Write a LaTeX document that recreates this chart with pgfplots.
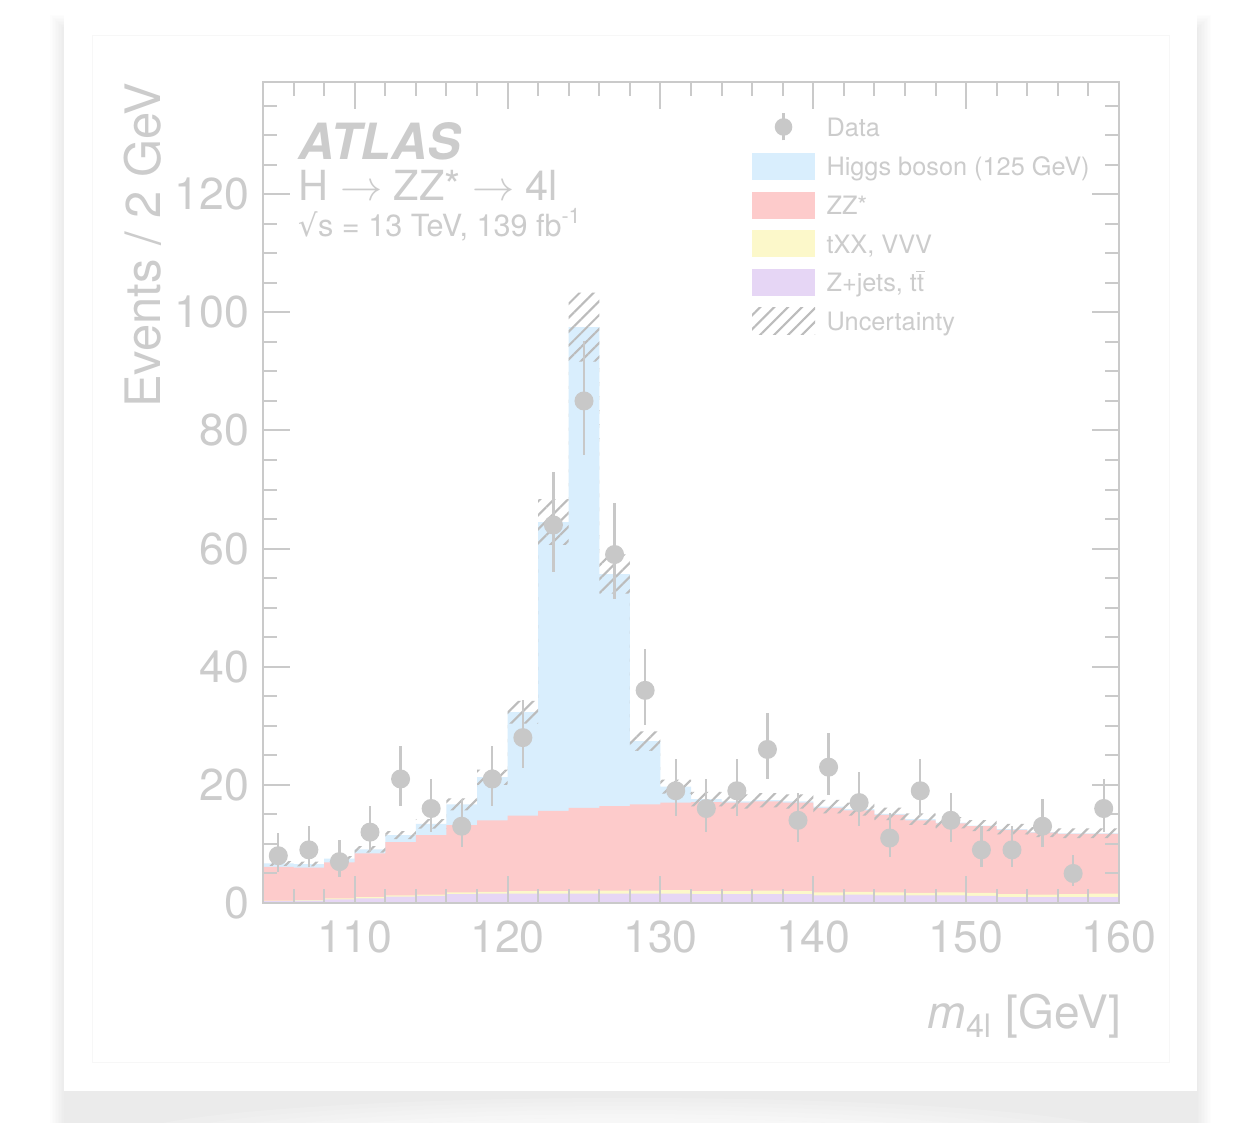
\documentclass[border=0pt]{standalone}
\usepackage{fontspec}
\setmainfont{TeX Gyre Heros}
\newfontfamily\dejavu{DejaVu Sans}
\usepackage{pgfplots}
\pgfplotsset{compat=1.18}
\usepackage{pgfplotstable}
\usetikzlibrary{patterns.meta}

\definecolor{txtgray}{RGB}{204,204,204}
\definecolor{axisgray}{RGB}{202,202,202}
\definecolor{datagray}{RGB}{200,200,200}
\definecolor{hatchgray}{RGB}{188,188,188}
\definecolor{hblue}{RGB}{217,238,253}
\definecolor{zzred}{RGB}{253,203,203}
\definecolor{tyellow}{RGB}{252,248,202}
\definecolor{zpurple}{RGB}{230,214,245}

\pgfplotstableread{
x P Y R B
104 0.3 0.4 6.1 6.7
106 0.4 0.5 6.0 6.6
108 0.6 0.8 6.9 7.5
110 0.8 1.0 8.4 9.1
112 1.1 1.3 10.3 11.5
114 1.2 1.4 11.5 13.4
116 1.5 1.8 13.2 16.7
118 1.6 1.9 14.0 21.3
120 1.6 2.0 14.8 32.3
122 1.6 2.0 15.6 64.5
124 1.6 2.1 16.1 97.5
126 1.6 2.1 16.4 55.7
128 1.6 2.1 16.7 27.4
130 1.6 2.2 17.0 19.7
132 1.5 2.0 17.1 17.6
134 1.5 2.0 17.0 17.2
136 1.5 2.1 17.2 17.4
138 1.5 2.0 17.0 17.2
140 1.3 1.8 16.1 16.3
142 1.4 1.9 15.7 15.9
144 1.3 1.8 14.9 15.1
146 1.3 1.7 14.0 14.2
148 1.3 1.8 13.5 13.6
150 1.2 1.7 13.0 13.1
152 1.0 1.5 12.4 12.5
154 1.0 1.4 11.9 12.0
156 1.0 1.5 11.7 11.8
158 1.0 1.6 11.7 11.8
160 1.0 1.6 11.7 11.8
}\stack

\pgfplotstableread{
x y ep em
105 8 3.8 2.7
107 9 4.0 2.9
109 7 3.6 2.6
111 12 4.5 3.4
113 21 5.6 4.5
115 16 5.0 3.9
117 13 4.6 3.5
119 21 5.6 4.5
121 28 6.3 5.2
123 64 9.0 7.9
125 85 10.2 9.1
127 59 8.7 7.6
129 36 7.0 5.9
131 19 5.4 4.3
133 16 5.0 3.9
135 19 5.4 4.3
137 26 6.1 5.0
139 14 4.7 3.6
141 23 5.8 4.7
143 17 5.1 4.0
145 11 4.3 3.2
147 19 5.4 4.3
149 14 4.7 3.6
151 9 4.0 2.9
153 9 4.0 2.9
155 13 4.6 3.5
157 5 3.2 2.1
159 16 5.0 3.9
}\data

\newcommand{\tbar}{\ooalign{t\cr\hidewidth\rule[0.76em]{0.34em}{0.06em}\hidewidth\cr}}

\begin{document}
\begin{tikzpicture}
% card shadow
\foreach \i in {0,...,9} {
  \fill[black, opacity=0.008] ({(50+\i*1.5)*0.1mm},0) rectangle ({(1211-\i*1.5)*0.1mm},{(1108-\i*1.5)*0.1mm});
}
\foreach \i in {0,...,5} {
  \fill[overlay, white, opacity=0.15] (62.7mm,-1.5mm) ellipse ({50mm-\i*4mm} and {4mm-\i*0.4mm});
}
% card
\fill[white] (6.4mm,3.2mm) rectangle (119.7mm,111.7mm);
\draw[black!3, line width=0.1mm] (9.2mm,6.1mm) rectangle (116.9mm,108.7mm);

\begin{axis}[
  at={(26.3mm,22.0mm)}, anchor=south west,
  scale only axis, width=85.6mm, height=82.1mm,
  xmin=104, xmax=160, ymin=0, ymax=139,
  axis on top,
  axis line style={draw=axisgray, line width=0.2mm},
  every tick/.style={draw=axisgray, line width=0.2mm},
  major tick length=2.7mm, minor tick length=1.4mm,
  tick align=inside, xtick pos=both, ytick pos=both,
  xtick={110,120,...,160}, ytick={0,20,...,120},
  minor xtick={104,106,...,160}, minor ytick={0,5,...,135},
  /pgf/number format/assume math mode=true,
  tick label style={font=\fontsize{12.7}{13}\selectfont, text=txtgray},
  xticklabel style={anchor=north, inner sep=0pt, yshift=-1.7mm},
  yticklabel style={anchor=east, inner sep=0pt, xshift=-1.3mm},
  xlabel={\textit{m}\textsubscript{4l} [GeV]},
  ylabel={Events / 2 GeV},
  every axis x label/.style={at={(axis description cs:1.003,-0.1523)}, anchor=base east, inner sep=0pt, font=\fontsize{13.1}{14}\selectfont, text=txtgray},
  every axis y label/.style={at={(axis description cs:-0.1203,1)}, anchor=base east, rotate=90, inner sep=0pt, font=\fontsize{13.9}{14}\selectfont, text=txtgray},
  legend cell align=left,
  legend style={draw=none, fill=none, inner sep=0pt, outer sep=0pt,
    at={(axis description cs:0.5713,0.9630)}, anchor=north west,
    row sep=1.16mm, font=\fontsize{7.2}{8}\selectfont, text=txtgray,
    nodes={inner sep=0pt, text height=2.25mm, text depth=0.42mm},
    /tikz/every odd column/.append style={column sep=1.15mm}},
]
\addplot[const plot, fill=hblue, draw=none, forget plot] table[x=x,y=B]{\stack} \closedcycle;
\addplot[const plot, fill=zzred, draw=none, forget plot] table[x=x,y=R]{\stack} \closedcycle;
\addplot[const plot, fill=tyellow, draw=none, forget plot] table[x=x,y=Y]{\stack} \closedcycle;
\addplot[const plot, fill=zpurple, draw=none, forget plot] table[x=x,y=P]{\stack} \closedcycle;
% uncertainty band: upper edge forward, lower edge backward
\addplot[pattern={Lines[angle=45,distance=2.8pt,line width=0.6pt]}, pattern color=hatchgray, draw=none, forget plot] coordinates {
(104,7.10)(106,7.10)(106,7.00)(108,7.00)(108,7.95)(110,7.95)(110,9.65)(112,9.65)(112,12.19)(114,12.19)(114,14.20)(116,14.20)(116,17.70)(118,17.70)(118,22.58)(120,22.58)(120,34.24)(122,34.24)(122,68.37)(124,68.37)(124,103.35)(126,103.35)(126,59.04)(128,59.04)(128,29.04)(130,29.04)(130,20.88)(132,20.88)(132,18.83)(134,18.83)(134,18.40)(136,18.40)(136,18.62)(138,18.62)(138,18.40)(140,18.40)(140,17.44)(142,17.44)(142,17.01)(144,17.01)(144,16.16)(146,16.16)(146,15.19)(148,15.19)(148,14.55)(150,14.55)(150,14.02)(152,14.02)(152,13.38)(154,13.38)(154,12.84)(156,12.84)(156,12.63)(158,12.63)(158,12.63)(160,12.63)
(160,10.97)(158,10.97)(158,10.97)(156,10.97)(156,11.16)(154,11.16)(154,11.63)(152,11.63)(152,12.18)(150,12.18)(150,12.65)(148,12.65)(148,13.21)(146,13.21)(146,14.04)(144,14.04)(144,14.79)(142,14.79)(142,15.16)(140,15.16)(140,16.00)(138,16.00)(138,16.18)(136,16.18)(136,16.00)(134,16.00)(134,16.37)(132,16.37)(132,18.52)(130,18.52)(130,25.76)(128,25.76)(128,52.36)(126,52.36)(126,91.65)(124,91.65)(124,60.63)(122,60.63)(122,30.36)(120,30.36)(120,20.02)(118,20.02)(118,15.70)(116,15.70)(116,12.60)(114,12.60)(114,10.81)(112,10.81)(112,8.55)(110,8.55)(110,7.05)(108,7.05)(108,6.20)(106,6.20)(106,6.30)(104,6.30)
} -- cycle;
\addplot[only marks, color=datagray, mark=*, mark size=0.88mm, mark options={fill=datagray, draw=datagray}, forget plot,
  error bars/.cd, y dir=both, y explicit, error mark=none, error bar style={line width=0.22mm, draw=datagray}]
  table[x=x, y=y, y error plus=ep, y error minus=em]{\data};

\addlegendimage{legend image code/.code={\draw[datagray, line width=0.22mm] (3.15mm,-1.35mm) -- (3.15mm,1.35mm); \fill[datagray, draw=none] (3.15mm,0) circle (0.88mm); \path[draw=none, fill=none] (0,0) rectangle (6.3mm,0.1mm);}}
\addlegendentry{Data}
\addlegendimage{legend image code/.code={\fill[hblue, draw=none] (0,-1.35mm) rectangle (6.3mm,1.35mm);}}
\addlegendentry{Higgs boson (125 GeV)}
\addlegendimage{legend image code/.code={\fill[zzred, draw=none] (0,-1.35mm) rectangle (6.3mm,1.35mm);}}
\addlegendentry{ZZ*}
\addlegendimage{legend image code/.code={\fill[tyellow, draw=none] (0,-1.35mm) rectangle (6.3mm,1.35mm);}}
\addlegendentry{tXX, VVV}
\addlegendimage{legend image code/.code={\fill[zpurple, draw=none] (0,-1.35mm) rectangle (6.3mm,1.35mm);}}
\addlegendentry{Z+jets, t\tbar}
\addlegendimage{legend image code/.code={\path[draw=none, pattern={Lines[angle=45,distance=2.8pt,line width=0.6pt]}, pattern color=hatchgray] (0,-1.35mm) rectangle (6.3mm,1.35mm);}}
\addlegendentry{Uncertainty}
\end{axis}

\node[anchor=base west, inner sep=0pt, text depth=0pt, text=txtgray, font=\fontsize{14.2}{15}\selectfont\bfseries\itshape] at (29.8mm,96.3mm) {ATLAS};
\node[anchor=base west, inner sep=0pt, text height=8.4pt, text=txtgray, font=\fontsize{11.8}{12}\selectfont] at (29.8mm,92.2mm) {H $\rightarrow$ ZZ* $\rightarrow$ 4l};
\node[anchor=base west, inner sep=0pt, text=txtgray, font=\fontsize{8.7}{9}\selectfont] at (29.8mm,88.6mm) {{\dejavu √}s = 13 TeV, 139 fb\textsuperscript{-1}};
\path (0,0) rectangle (125.4mm,112.3mm);
\end{tikzpicture}
\end{document}
